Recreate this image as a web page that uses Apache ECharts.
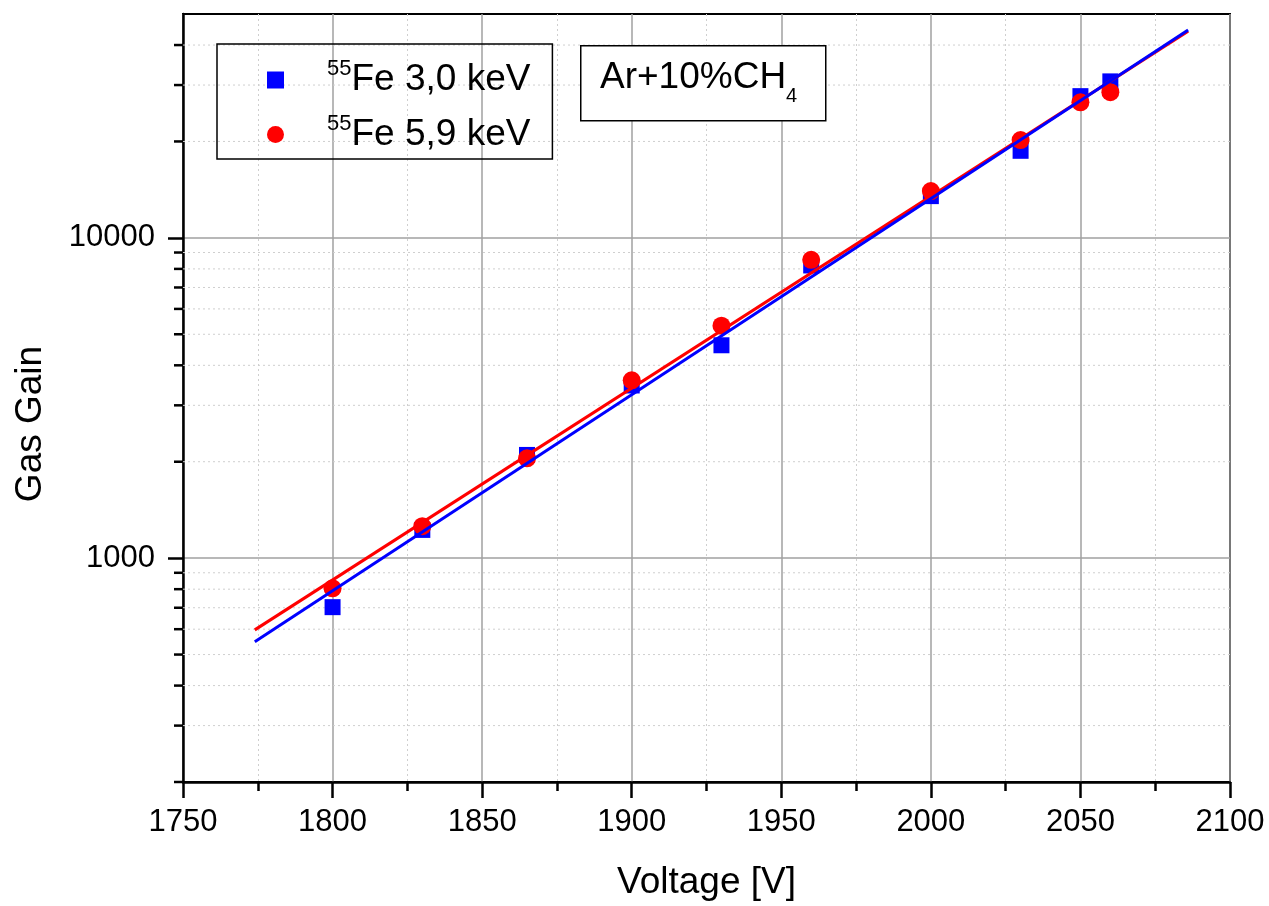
<!DOCTYPE html>
<html>
<head>
<meta charset="utf-8">
<title>Gas Gain vs Voltage</title>
<script src="https://cdn.jsdelivr.net/npm/echarts@6/dist/echarts.min.js"></script>
<style>
  html, body { margin: 0; padding: 0; background: #fff; }
  #chart { width: 1269px; height: 906px; }
</style>
</head>
<body>
<div id="chart"></div>
<script>
// measured points
const voltages = [1800, 1830, 1865, 1900, 1930, 1960, 2000, 2030, 2050, 2060];
const gain3keV = [703, 1225, 2100, 3460, 4620, 8200, 13500, 18700, 27700, 30800];
const gain59keV = [805, 1258, 2050, 3590, 5320, 8540, 14000, 20200, 26500, 28500];

// exponential fits (end points)
const fitVolt = [1774, 2086];
const fit3keV = [548, 44600];
const fit59keV = [597, 44200];

// axis values
const xMin = 1750, xMax = 2100;
const yMin = 200, yMax = 50000;
const yMajor = [1000, 10000];
const yMinor = [200, 300, 400, 500, 600, 700, 800, 900,
  2000, 3000, 4000, 5000, 6000, 7000, 8000, 9000,
  20000, 30000, 40000];

const font = 'Liberation Sans, Arial, sans-serif';
const pairs = (xs, ys) => xs.map((x, i) => [x, ys[i]]);

const chart = echarts.init(document.getElementById('chart'));

chart.setOption({
  backgroundColor: '#fff',
  animation: false,
  textStyle: { fontFamily: font },
  grid: {
    left: 183, right: 39, top: 14, bottom: 123,
    show: true, borderColor: '#000', borderWidth: 2, backgroundColor: 'transparent'
  },
  legend: {
    data: ['Fe 3,0 keV', 'Fe 5,9 keV'],
    orient: 'vertical',
    left: 217, top: 44,
    padding: [14, 22, 6, 50],
    itemWidth: 17, itemHeight: 17,
    itemGap: 14,
    borderColor: '#000', borderWidth: 1.5,
    selectedMode: false,
    formatter: name => `{sup|55}{n|${name}}`,
    textStyle: {
      color: '#000',
      rich: {
        sup: { fontSize: 22, fontFamily: font, color: '#000', lineHeight: 44, verticalAlign: 'top', padding: [0, 0, 0, 38] },
        n: { fontSize: 37, fontFamily: font, color: '#000', lineHeight: 44 }
      }
    }
  },
  graphic: [
    {
      type: 'rect', left: 580, top: 45, z: 10,
      shape: { width: 245, height: 75 },
      style: { fill: '#fff', stroke: '#000', lineWidth: 1.5 }
    },
    {
      type: 'text', x: 600, y: 50, z: 11,
      style: {
        text: '{m|Ar+10%CH}{s|4}',
        verticalAlign: 'top',
        rich: {
          m: { fontSize: 37, fontFamily: font, fill: '#000', lineHeight: 56 },
          s: { fontSize: 20, fontFamily: font, fill: '#000', lineHeight: 20, verticalAlign: 'bottom' }
        }
      }
    }
  ],
  xAxis: {
    type: 'value',
    min: xMin, max: xMax, interval: 50,
    name: 'Voltage [V]',
    nameLocation: 'middle',
    nameGap: 82,
    nameTextStyle: { fontSize: 37, color: '#000', fontFamily: font },
    axisLine: { lineStyle: { color: '#000', width: 2.5 } },
    axisTick: { length: 16, lineStyle: { color: '#000', width: 2.5 } },
    minorTick: { show: true, splitNumber: 2, length: 9, lineStyle: { color: '#000', width: 2.5 } },
    axisLabel: { fontSize: 31, color: '#000', margin: 25, fontFamily: font, formatter: v => String(v) },
    splitLine: { show: true, lineStyle: { color: '#a0a0a0', width: 1.5 } },
    minorSplitLine: { show: true, lineStyle: { color: '#cfcfcf', width: 1, type: [2, 3] } }
  },
  yAxis: {
    type: 'log',
    logBase: 10,
    min: yMin, max: yMax,
    name: 'Gas Gain',
    nameLocation: 'middle',
    nameGap: 134,
    nameTextStyle: { fontSize: 37, color: '#000', fontFamily: font, padding: [0, 52, 0, 0] },
    axisLine: { lineStyle: { color: '#000', width: 2.5 } },
    axisTick: { length: 15, customValues: yMajor, lineStyle: { color: '#000', width: 2.5 } },
    axisLabel: {
      fontSize: 31, color: '#000', margin: 28, fontFamily: font,
      customValues: yMajor,
      formatter: v => (yMajor.includes(Math.round(v)) ? String(Math.round(v)) : '')
    },
    splitLine: { show: true, lineStyle: { color: '#a0a0a0', width: 1.5 } }
  },
  series: [
    {
      // minor log grid lines and ticks
      type: 'custom',
      silent: true,
      z: 1,
      data: yMinor.map(v => [xMin, v]),
      renderItem: (params, api) => {
        const v = api.value(1);
        const p0 = api.coord([xMin, v]);
        const p1 = api.coord([xMax, v]);
        const children = [
          { type: 'line', shape: { x1: p0[0] - 9, y1: p0[1], x2: p0[0], y2: p0[1] },
            style: { stroke: '#000', lineWidth: 2.5 } }
        ];
        if (v > yMin) {
          children.push({ type: 'line', shape: { x1: p0[0], y1: p0[1], x2: p1[0], y2: p1[1] },
            style: { stroke: '#cfcfcf', lineWidth: 1, lineDash: [2, 3] } });
        }
        return { type: 'group', children };
      }
    },
    {
      name: 'Fe 3,0 keV',
      type: 'scatter',
      symbol: 'rect',
      symbolSize: 16,
      itemStyle: { color: '#0000ff', opacity: 1 },
      z: 3,
      data: pairs(voltages, gain3keV)
    },
    {
      name: 'Fe 5,9 keV',
      type: 'scatter',
      symbol: 'circle',
      symbolSize: 18,
      itemStyle: { color: '#ff0000', opacity: 1 },
      z: 4,
      data: pairs(voltages, gain59keV)
    },
    {
      name: 'fit 5,9',
      type: 'line',
      showSymbol: false,
      lineStyle: { color: '#ff0000', width: 3 },
      z: 5,
      data: pairs(fitVolt, fit59keV)
    },
    {
      name: 'fit 3,0',
      type: 'line',
      showSymbol: false,
      lineStyle: { color: '#0000ff', width: 3 },
      z: 6,
      data: pairs(fitVolt, fit3keV)
    }
  ]
});
</script>
</body>
</html>
